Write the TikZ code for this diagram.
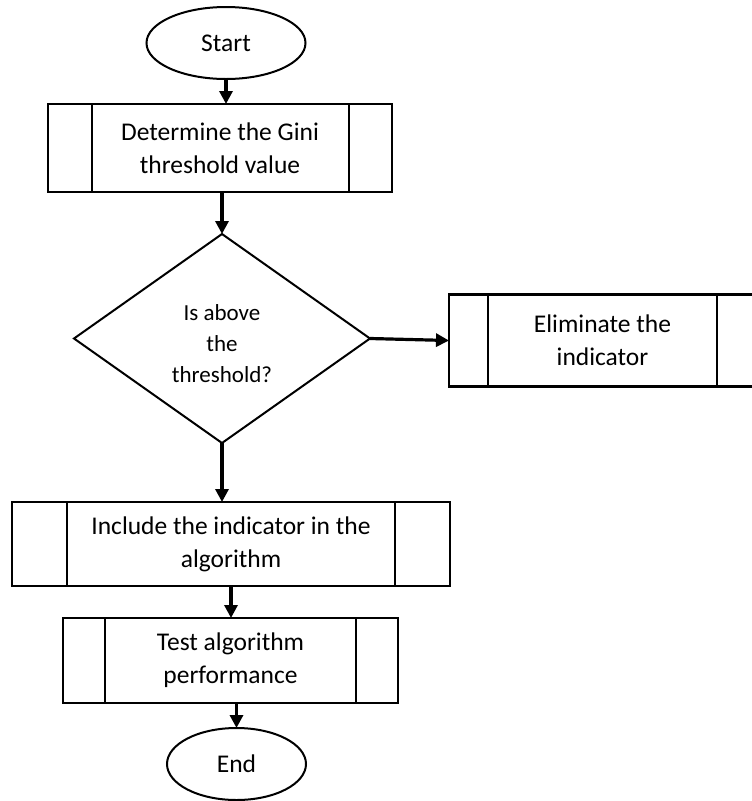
\documentclass[tikz,border=0pt]{standalone}
\usepackage{fontspec}
\setmainfont{Carlito}
\usetikzlibrary{shapes.geometric, arrows.meta, positioning}

\begin{document}
\begin{tikzpicture}[node distance=25pt, >={Triangle[length=13pt,width=13pt]},
    every node/.style={outer sep=0pt, inner sep=0pt, align=center, font=\fontsize{25.5}{33}\selectfont},
    terminal/.style={draw, ellipse, line width=2pt},
    process/.style={draw, rectangle, line width=2.2pt},
    decision/.style={draw, diamond, aspect=1.42, line width=2pt, text height=88pt, font=\fontsize{23}{31}\selectfont},
    flow/.style={->, line width=3.2pt}]
    \useasboundingbox (0,0) rectangle (752pt,-801pt);

    % Start
    \node[terminal, minimum width=159pt, minimum height=72pt] (start) at (226pt,-43pt) {Start};

    % Gini threshold
    \node[process, minimum width=344pt, minimum height=88pt, below=25pt of start, xshift=-6pt] (gini) {Determine the Gini\\threshold value};
    \draw[line width=2.2pt] ([xshift=44pt]gini.north west) -- ([xshift=44pt]gini.south west);
    \draw[line width=2.2pt] ([xshift=-43pt]gini.north east) -- ([xshift=-43pt]gini.south east);

    % Decision
    \node[decision, minimum width=296pt, minimum height=209pt, below=42pt of gini, xshift=2pt] (check) {Is above\\the\\threshold?};

    % Eliminate
    \node[process, minimum width=307pt, minimum height=92pt, right=79pt of check, yshift=-2pt] (elim) {Eliminate the\\indicator};
    \draw[line width=2.2pt] ([xshift=39pt]elim.north west) -- ([xshift=39pt]elim.south west);
    \draw[line width=2.2pt] ([xshift=-39pt]elim.north east) -- ([xshift=-39pt]elim.south east);

    % Include
    \node[process, minimum width=438pt, minimum height=84pt, below=59pt of check, xshift=9pt] (incl) {Include the indicator in the\\algorithm};
    \draw[line width=2.2pt] ([xshift=55pt]incl.north west) -- ([xshift=55pt]incl.south west);
    \draw[line width=2.2pt] ([xshift=-55pt]incl.north east) -- ([xshift=-55pt]incl.south east);

    % Test
    \node[process, minimum width=335pt, minimum height=85pt, below=32pt of incl, xshift=-0.5pt] (test) {Test algorithm\\performance};
    \draw[line width=2.2pt] ([xshift=42pt]test.north west) -- ([xshift=42pt]test.south west);
    \draw[line width=2.2pt] ([xshift=-42pt]test.north east) -- ([xshift=-42pt]test.south east);

    % End
    \node[terminal, minimum width=139pt, minimum height=72pt, below=25pt of test, xshift=6pt] (stop) {End};

    % Arrows
    \draw[flow] (start.south) -- (start.south |- gini.north);
    \draw[flow] (check.north |- gini.south) -- (check.north);
    \draw[flow] (check.east) -- (elim.west);
    \draw[flow] (check.south) -- (check.south |- incl.north);
    \draw[flow] (incl.south) -- (incl.south |- test.north);
    \draw[flow] (stop.north |- test.south) -- (stop.north);
\end{tikzpicture}
\end{document}
